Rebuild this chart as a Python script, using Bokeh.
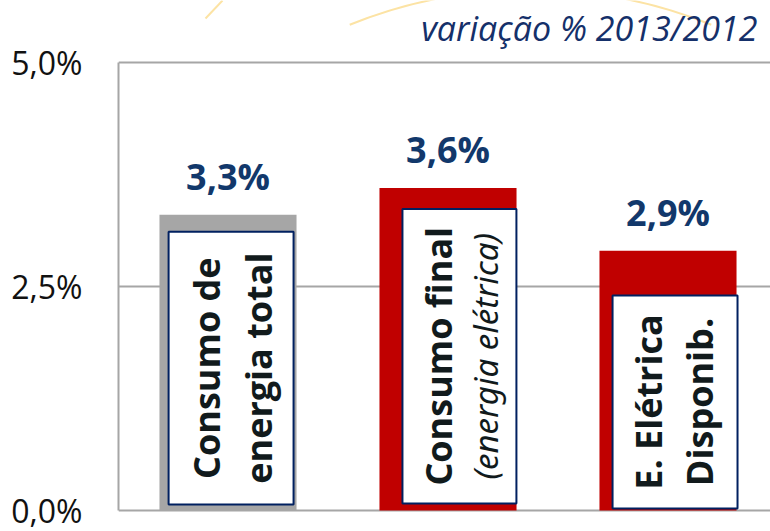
import math
from bokeh.plotting import figure
from bokeh.models import Range1d, FixedTicker, Span, Label, ColumnDataSource
from bokeh.core.properties import value
from bokeh.embed import file_html
from bokeh.resources import INLINE

# ---------------- data ----------------
CATEGORIES = ["Consumo de energia total", "Consumo final (energia elétrica)", "E. Elétrica Disponib."]
VALUES = [3.3, 3.6, 2.9]
VALUE_LABELS = ["3,3%", "3,6%", "2,9%"]
BAR_COLORS = ["#a6a6a6", "#c00000", "#c00000"]
LINE1 = ["Consumo de", "Consumo final", "E. Elétrica"]
LINE2 = ["energia total", "(energia elétrica)", "Disponib."]
LINE2_ITALIC = [False, True, False]
TICK_VALUES = [0.0, 2.5, 5.0]
TICK_LABELS = ["0,0%", "2,5%", "5,0%"]
TITLE = "variação % 2013/2012"

# ---------------- layout constants ----------------
BAR_W = 0.623
BOX_DX = [0.014, 0.052, 0.032]      # box centre offset from bar centre
BOX_W = [0.568, 0.518, 0.568]
BOX_TOP_GAP = [0.19, 0.235, 0.50]   # box top below bar top
BOX_BOTTOM = [0.067, 0.078, 0.022]
L1_DX = [-0.098, -0.044, -0.089]    # anchor offsets of the rotated lines
L2_DX = [0.138, 0.172, 0.143]

NAVY_TXT = "#12386b"
BOX_LINE = "#002060"
DARK = "#111a1c"
GRID = "#a6a6a6"
FONT = value("Open Sans")

p = figure(width=770, height=531, output_backend="svg", toolbar_location=None,
           x_range=Range1d(0.50227, 3.46591), y_range=Range1d(-0.0223, 5.692),
           x_axis_location=None, y_axis_location="left",
           min_border_left=118, min_border_right=0, min_border_top=0, min_border_bottom=19)
p.outline_line_color = None
p.background_fill_color = "white"
p.border_fill_color = "white"

# grid / frame lines
p.xgrid.visible = False
p.ygrid.ticker = FixedTicker(ticks=[2.5, 5.0])
p.ygrid.grid_line_color = GRID
p.ygrid.grid_line_width = 2

ax = p.yaxis[0]
ax.ticker = FixedTicker(ticks=TICK_VALUES)
ax.major_label_overrides = {v: l for v, l in zip(TICK_VALUES, TICK_LABELS)}
ax.bounds = (0, 5)
ax.axis_line_color = GRID
ax.axis_line_width = 2
ax.major_tick_line_color = None
ax.minor_tick_line_color = None
ax.major_tick_in = 0
ax.major_tick_out = 0
ax.major_label_standoff = 36
ax.major_label_text_font = "Open Sans"
ax.major_label_text_font_size = "32px"
ax.major_label_text_color = "#111111"

p.add_layout(Span(location=0, dimension="width", line_color=GRID, line_width=2, level="underlay"))

# decorative arcs at the top
p.arc(x=[2.375], y=[0.4275], radius=2.1936, start_angle=math.radians(68),
      end_angle=math.radians(112), line_color="#fce3a4", line_width=2)
p.segment(x0=[0.8977], y0=[5.491], x1=[0.975], y1=[5.692], line_color="#fce3a4", line_width=2)

# bars
xs = [i + 1 for i in range(len(CATEGORIES))]
src = ColumnDataSource(dict(x=xs, top=VALUES, color=BAR_COLORS, lab=VALUE_LABELS))
p.vbar(x="x", top="top", width=BAR_W, bottom=0, fill_color="color", line_color=None, source=src)

p.text(x="x", y="top", text="lab", source=src, text_align="center", text_baseline="alphabetic",
       y_offset=-38, text_font=FONT, text_font_style="bold", text_font_size="36px",
       text_color=NAVY_TXT)

# white label boxes
bl = [x + dx - w / 2 for x, dx, w in zip(xs, BOX_DX, BOX_W)]
br = [x + dx + w / 2 for x, dx, w in zip(xs, BOX_DX, BOX_W)]
bt = [v - g for v, g in zip(VALUES, BOX_TOP_GAP)]
p.quad(left=bl, right=br, top=bt, bottom=BOX_BOTTOM, fill_color="white",
       line_color=BOX_LINE, line_width=2)

yc = [(t + b) / 2 for t, b in zip(bt, BOX_BOTTOM)]
p.text(x=[x + d for x, d in zip(xs, L1_DX)], y=yc, text=LINE1, angle=math.pi / 2,
       text_align="center", text_baseline="alphabetic", text_font=FONT,
       text_font_style="bold", text_font_size="36px", text_color=DARK)
for i in range(len(xs)):
    it = LINE2_ITALIC[i]
    p.text(x=[xs[i] + L2_DX[i]], y=[yc[i]], text=[LINE2[i]], angle=math.pi / 2,
           text_align="center", text_baseline="alphabetic",
           text_font=value("Noto Sans") if it else FONT,
           text_font_style="italic" if it else "bold",
           text_font_size="33px" if it else "36px", text_color=DARK)

# subtitle
p.add_layout(Label(x=3.4068, y=5.39, text=TITLE, text_align="right", text_baseline="alphabetic",
                   text_font="Open Sans", text_font_style="italic", text_font_size="34px",
                   text_color="#15306a"))

open("out.html", "w").write(file_html(p, INLINE))
